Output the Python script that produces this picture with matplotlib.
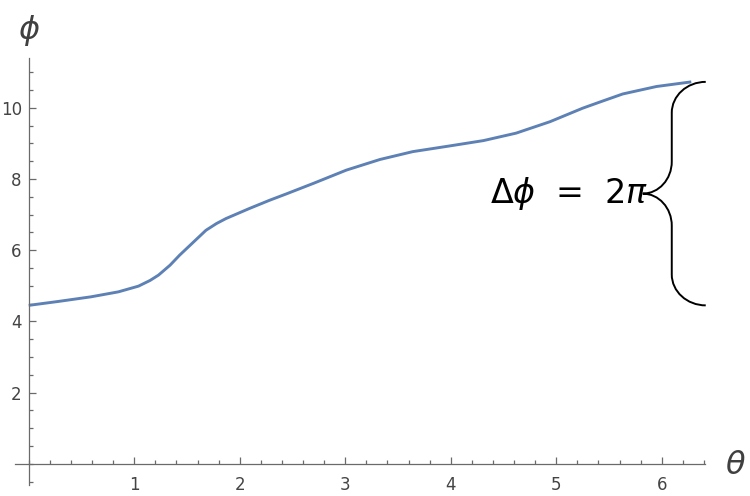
import numpy as np
import matplotlib.pyplot as plt
from matplotlib.path import Path
from matplotlib.patches import PathPatch
from matplotlib.ticker import MultipleLocator, FixedLocator

plt.rcParams['mathtext.fontset'] = 'dejavusans'

# values
theta = [0.0, 0.28, 0.59, 0.85, 1.04, 1.15, 1.23, 1.34, 1.43, 1.53, 1.68,
         1.78, 1.87, 2.09, 2.28, 2.44, 2.70, 3.01, 3.33, 3.64, 3.99, 4.31,
         4.62, 4.94, 5.25, 5.41, 5.63, 5.95, 6.28]
phi = [4.45, 4.56, 4.69, 4.83, 4.99, 5.15, 5.30, 5.58, 5.86, 6.14, 6.56,
       6.75, 6.89, 7.17, 7.40, 7.58, 7.88, 8.25, 8.55, 8.77, 8.93, 9.08,
       9.29, 9.61, 9.99, 10.16, 10.39, 10.60, 10.73]
xticks = [1, 2, 3, 4, 5, 6]
yticks = [2, 4, 6, 8, 10]

fig = plt.figure(figsize=(7.5, 4.96), dpi=100)
ax = fig.add_axes([0.02, 0.022, 0.92, 0.861])

ax.plot(theta, phi, color='#5E81B5', lw=2.1, solid_capstyle='butt',
        solid_joinstyle='round')

ax.set_xlim(-0.13, 6.41)
ax.set_ylim(-0.6, 11.4)

for s in ['top', 'right']:
    ax.spines[s].set_visible(False)
for s in ['left', 'bottom']:
    ax.spines[s].set_position(('data', 0))
    ax.spines[s].set_color('#6a6a6a')
    ax.spines[s].set_linewidth(0.9)

ax.xaxis.set_major_locator(FixedLocator(xticks))
ax.yaxis.set_major_locator(FixedLocator(yticks))
ax.xaxis.set_minor_locator(MultipleLocator(0.2))
ax.yaxis.set_minor_locator(MultipleLocator(0.5))
ax.tick_params(which='both', direction='in', color='#6a6a6a', width=0.9,
               labelcolor='#444444', labelsize=12)
ax.tick_params(which='major', length=5)
ax.tick_params(which='minor', length=3)
ax.tick_params(axis='x', pad=9)
ax.tick_params(axis='y', pad=5)

# axis labels
ax.text(0, 12.17, r'$\phi$', fontsize=23, color='#404040', ha='center',
        va='center', clip_on=False)
ax.text(6.70, -0.06, r'$\theta$', fontsize=23, color='#404040', ha='center',
        va='center', clip_on=False)

# brace spanning the 2*pi rise
top, bot = phi[-1], phi[0]
mid = (top + bot) / 2
xo, xv, xt = 6.417, 6.095, 5.82
h1, h2 = 0.87, 0.9
k = 0.5523
verts = [
    (xo, top),
    (xo - k * (xo - xv), top), (xv, top - h1 + k * h1), (xv, top - h1),
    (xv, mid + h2),
    (xv, mid + h2 - k * h2), (xv - (1 - k) * (xv - xt), mid), (xt, mid),
    (xv - (1 - k) * (xv - xt), mid), (xv, mid - h2 + k * h2), (xv, mid - h2),
    (xv, bot + h1),
    (xv, bot + h1 - k * h1), (xo - k * (xo - xv), bot), (xo, bot),
]
codes = [Path.MOVETO,
         Path.CURVE4, Path.CURVE4, Path.CURVE4,
         Path.LINETO,
         Path.CURVE4, Path.CURVE4, Path.CURVE4,
         Path.CURVE4, Path.CURVE4, Path.CURVE4,
         Path.LINETO,
         Path.CURVE4, Path.CURVE4, Path.CURVE4]
ax.add_patch(PathPatch(Path(verts, codes), fill=False, color='black',
                       lw=1.4, clip_on=False))

ax.text(5.87, mid, r'$\Delta\phi\;\,=\;\,2\pi$', fontsize=24, color='black',
        ha='right', va='center', clip_on=False)

fig.savefig('out.png', dpi=100)
